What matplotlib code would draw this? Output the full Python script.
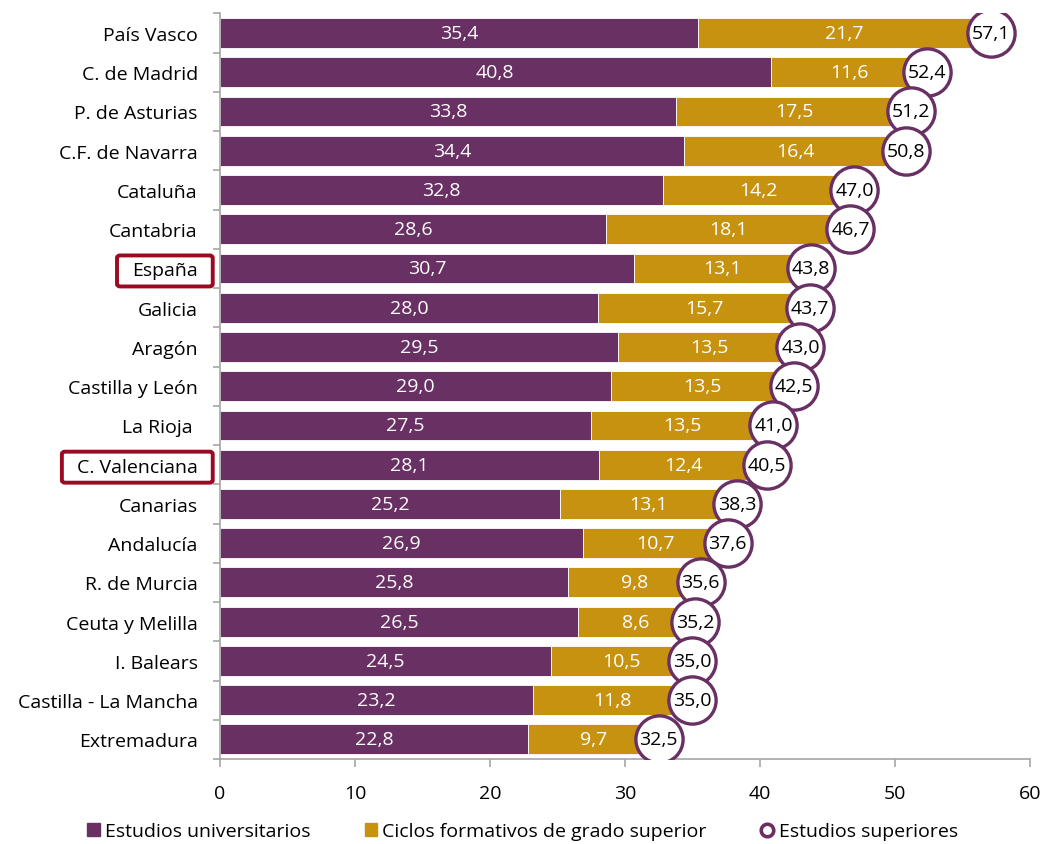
import matplotlib
matplotlib.use('Agg')
import matplotlib.pyplot as plt
from matplotlib.patches import FancyBboxPatch
from matplotlib.lines import Line2D
from matplotlib.patches import Patch
import numpy as np

plt.rcParams['font.family'] = ['Open Sans', 'DejaVu Sans']

# data (top to bottom as in the chart)
regions = ['País Vasco', 'C. de Madrid', 'P. de Asturias', 'C.F. de Navarra', 'Cataluña',
           'Cantabria', 'España', 'Galicia', 'Aragón', 'Castilla y León', 'La Rioja ',
           'C. Valenciana', 'Canarias', 'Andalucía', 'R. de Murcia', 'Ceuta y Melilla',
           'I. Balears', 'Castilla - La Mancha', 'Extremadura']
universitarios = [35.4, 40.8, 33.8, 34.4, 32.8, 28.6, 30.7, 28.0, 29.5, 29.0, 27.5,
                  28.1, 25.2, 26.9, 25.8, 26.5, 24.5, 23.2, 22.8]
ciclos = [21.7, 11.6, 17.5, 16.4, 14.2, 18.1, 13.1, 15.7, 13.5, 13.5, 13.5,
          12.4, 13.1, 10.7, 9.8, 8.6, 10.5, 11.8, 9.7]
superiores = [57.1, 52.4, 51.2, 50.8, 47.0, 46.7, 43.8, 43.7, 43.0, 42.5, 41.0,
              40.5, 38.3, 37.6, 35.6, 35.2, 35.0, 35.0, 32.5]
highlighted = ['España', 'C. Valenciana']

purple = '#693064'
gold = '#C89211'
red = '#9B0A23'
grey = '#A6A6A6'
fs = 14

def fmt(v):
    return f'{v:.1f}'.replace('.', ',')

fig = plt.figure(figsize=(10.45, 8.45), dpi=100)
ax = fig.add_axes([0.2105, 0.1006, 0.7751, 0.8824])

y = np.arange(len(regions))
ax.barh(y, universitarios, height=0.76, color=purple, edgecolor='white', linewidth=0.6, zorder=2)
ax.barh(y, ciclos, left=universitarios, height=0.76, color=gold, edgecolor='white', linewidth=0.6, zorder=2)
ax.plot(superiores, y, 'o', markersize=34, markerfacecolor='white', markeredgecolor=purple,
        markeredgewidth=2.4, linestyle='none', zorder=3)

for i in range(len(regions)):
    ax.text(universitarios[i] / 2, y[i], fmt(universitarios[i]), ha='center', va='center',
            color='white', fontsize=fs, zorder=4)
    ax.text(universitarios[i] + ciclos[i] / 2, y[i], fmt(ciclos[i]), ha='center', va='center',
            color='white', fontsize=fs, zorder=4)
    ax.text(superiores[i], y[i], fmt(superiores[i]), ha='center', va='center',
            color='black', fontsize=fs, zorder=5)

ax.set_xlim(0, 60)
ax.set_ylim(len(regions) - 0.5, -0.5)
ax.set_xticks(range(0, 61, 10))
ax.set_yticks(y)
ax.set_yticklabels(regions, fontsize=fs)
ax.set_yticks(np.arange(-0.5, len(regions), 1), minor=True)
ax.tick_params(axis='y', which='major', length=0, pad=16)
ax.tick_params(axis='y', which='minor', length=5, color=grey, width=1.2)
ax.tick_params(axis='x', length=6, color=grey, width=1.2, labelsize=fs, pad=12)
for s in ['top', 'right']:
    ax.spines[s].set_visible(False)
for s in ['left', 'bottom']:
    ax.spines[s].set_color(grey)
    ax.spines[s].set_linewidth(1.2)

handles = [Patch(color=purple, label='Estudios universitarios'),
           Patch(color=gold, label='Ciclos formativos de grado superior'),
           Line2D([], [], marker='o', linestyle='none', markerfacecolor='white',
                  markeredgecolor=purple, markeredgewidth=2.6, markersize=9,
                  label='Estudios superiores')]
fig.legend(handles=handles, loc='center', bbox_to_anchor=(0.5, 0.015), ncol=3, frameon=False,
           fontsize=fs, handlelength=0.65, handleheight=0.65, handletextpad=0.25, columnspacing=2.8)

# red boxes round the highlighted labels
fig.canvas.draw()
renderer = fig.canvas.get_renderer()
for lab in ax.get_yticklabels():
    if lab.get_text() in highlighted:
        bb = lab.get_window_extent(renderer)
        x0, y0 = bb.x0 - 15, bb.y0 - 7
        w, h = bb.width + 30, bb.height + 13
        (fx0, fy0) = fig.transFigure.inverted().transform((x0, y0))
        (fx1, fy1) = fig.transFigure.inverted().transform((x0 + w, y0 + h))
        box = FancyBboxPatch((fx0, fy0), fx1 - fx0, fy1 - fy0,
                             boxstyle='round,pad=0,rounding_size=0.003',
                             transform=fig.transFigure, facecolor='none',
                             edgecolor=red, linewidth=2.8, zorder=10)
        fig.add_artist(box)

plt.savefig('out.png', dpi=100)
